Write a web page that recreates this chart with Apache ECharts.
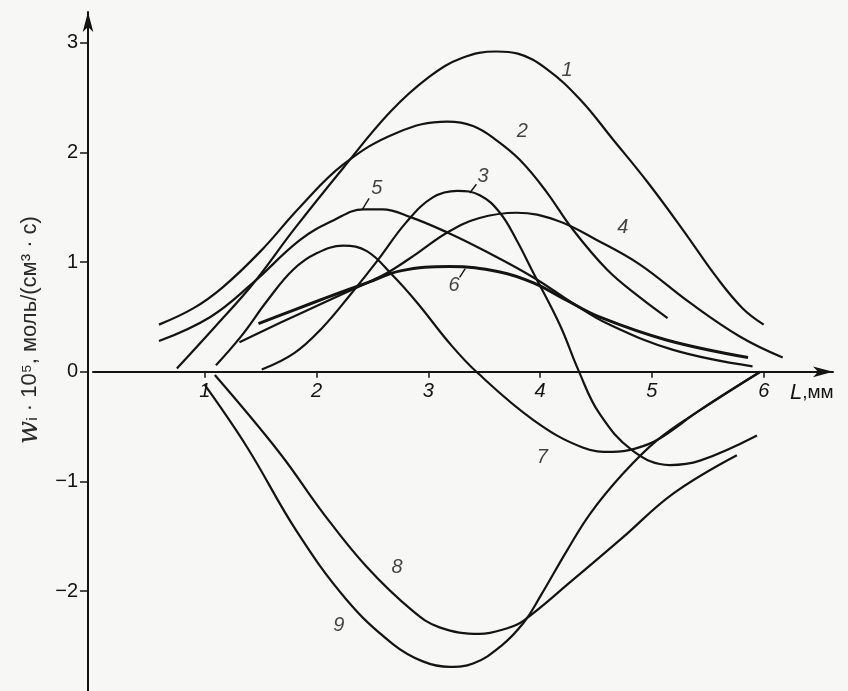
<!DOCTYPE html>
<html>
<head>
<meta charset="utf-8">
<script src="https://cdn.jsdelivr.net/npm/echarts@6/dist/echarts.min.js"></script>
<style>
  html, body { margin: 0; padding: 0; background: #f7f7f5; }
  #chart { width: 848px; height: 691px; }
</style>
</head>
<body>
<div id="chart"></div>
<script>
// curves: [L, mm ; w * 10^5]
const curve1 = [[0.75,0.03],[1.1,0.42],[1.43,0.8],[1.8,1.3],[2.24,1.86],[2.66,2.37],[3.01,2.69],[3.3,2.86],[3.61,2.92],[3.8,2.9],[4.06,2.76],[4.36,2.48],[4.65,2.12],[4.96,1.73],[5.28,1.29],[5.58,0.86],[5.81,0.58],[6.0,0.43]];
const curve2 = [[0.59,0.43],[0.9,0.58],[1.16,0.77],[1.5,1.1],[1.85,1.5],[2.24,1.89],[2.72,2.18],[3.17,2.28],[3.4,2.24],[3.61,2.11],[3.82,1.93],[4.05,1.65],[4.29,1.3],[4.6,0.93],[4.89,0.68],[5.14,0.49]];
const curve3 = [[1.51,0.02],[1.8,0.17],[2.05,0.4],[2.3,0.7],[2.55,1.02],[2.8,1.36],[3.04,1.59],[3.26,1.65],[3.46,1.61],[3.64,1.45],[3.79,1.2],[3.94,0.9],[4.18,0.42],[4.34,0.02],[4.53,-0.38],[4.83,-0.72],[5.16,-0.85],[5.43,-0.81],[5.94,-0.58]];
const curve4 = [[1.31,0.27],[1.85,0.53],[2.45,0.81],[2.63,0.9],[2.9,1.08],[3.17,1.27],[3.45,1.4],[3.79,1.45],[4.15,1.38],[4.51,1.2],[4.89,0.98],[5.34,0.63],[5.79,0.32],[6.17,0.13]];
const curve5 = [[0.59,0.28],[1.05,0.5],[1.43,0.81],[1.85,1.2],[2.15,1.38],[2.42,1.48],[2.59,1.48],[2.84,1.41],[3.17,1.27],[3.49,1.11],[3.94,0.86],[4.3,0.62],[4.6,0.44],[5.19,0.2],[5.9,0.05]];
const curve6 = [[1.48,0.44],[1.79,0.56],[2.1,0.68],[2.45,0.81],[2.75,0.92],[3.19,0.96],[3.64,0.91],[3.94,0.81],[4.24,0.65],[4.53,0.5],[5.13,0.29],[5.86,0.13]];
const curve7 = [[1.1,0.06],[1.33,0.33],[1.56,0.65],[1.79,0.93],[2.0,1.08],[2.24,1.15],[2.45,1.1],[2.68,0.88],[2.9,0.63],[3.19,0.26],[3.43,0.0],[3.94,-0.44],[4.38,-0.69],[4.65,-0.73],[4.85,-0.7],[5.05,-0.62],[5.43,-0.35],[5.97,0.0]];
const curve8 = [[1.09,-0.03],[1.67,-0.74],[2.06,-1.29],[2.45,-1.78],[2.86,-2.18],[3.1,-2.33],[3.46,-2.39],[3.7,-2.34],[3.85,-2.27],[4.29,-1.9],[4.74,-1.51],[5.19,-1.11],[5.76,-0.76]];
const curve9 = [[1.0,-0.12],[1.38,-0.69],[1.82,-1.45],[2.27,-2.08],[2.68,-2.48],[2.95,-2.64],[3.19,-2.69],[3.4,-2.66],[3.65,-2.5],[3.85,-2.29],[4.0,-2.05],[4.24,-1.63],[4.45,-1.29],[4.74,-0.93],[5.05,-0.62],[5.43,-0.35],[5.97,0.0]];

const curves = [curve1, curve2, curve3, curve4, curve5, curve6, curve7, curve8, curve9];
const curveWidths = [2.2, 2.2, 2.2, 2.2, 2.2, 3, 2.2, 2.2, 2.2];

// curve numbers and where they sit
const labelText = ["1", "2", "3", "4", "5", "6", "7", "8", "9"];
const labelX = [4.24, 3.84, 3.49, 4.74, 2.54, 3.23, 4.02, 2.72, 2.2];
const labelY = [2.75, 2.19, 1.78, 1.32, 1.67, 0.79, -0.78, -1.78, -2.31];

// little strokes joining labels 3, 5, 6 to their curves
const leaders = [
  [[3.43, 1.71], [3.37, 1.63]],
  [[2.47, 1.58], [2.41, 1.48]],
  [[3.28, 0.86], [3.33, 0.94]],
];

const xTicks = [1, 2, 3, 4, 5, 6];
const yTicks = [-2, -1, 0, 1, 2, 3];
const yMin = -2.91;
const yMax = 3.28;

const ink = "#141414";
const font = "Liberation Sans";

const gridTop = 12;
const gridBottom = 0;
const plotH = 691 - gridTop - gridBottom;
// the x axis sits on w = 0, so lift it from the grid bottom
const zeroLift = plotH * (0 - yMin) / (yMax - yMin);

const chart = echarts.init(document.getElementById("chart"));

const series = curves.map((c, i) => ({
  type: "line",
  data: c,
  smooth: 0.4,
  symbol: "none",
  lineStyle: { color: ink, width: curveWidths[i] },
  z: 3,
}));

leaders.forEach((l) => {
  series.push({
    type: "line",
    data: l,
    symbol: "none",
    lineStyle: { color: ink, width: 1.4 },
  });
});

series.push({
  type: "scatter",
  symbolSize: 0,
  data: labelText.map((t, i) => ({ name: t, value: [labelX[i], labelY[i]] })),
  label: {
    show: true,
    position: "inside",
    formatter: (p) => p.name,
    color: ink,
    fontFamily: font,
    fontStyle: "italic",
    fontSize: 20,
  },
  z: 5,
});

const option = {
  animation: false,
  backgroundColor: "#f7f7f5",
  grid: {
    left: 93,
    right: 15,
    top: gridTop,
    bottom: gridBottom,
    containLabel: false,
    outerBoundsMode: "none",
  },
  xAxis: {
    type: "value",
    min: 0,
    max: 6.62,
    position: "bottom",
    offset: -zeroLift,
    splitLine: { show: false },
    axisLine: {
      onZero: false,
      symbol: ["none", "arrow"],
      symbolSize: [8, 20],
      lineStyle: { color: ink, width: 2 },
    },
    axisTick: {
      customValues: xTicks,
      length: 6,
      lineStyle: { color: ink, width: 1.5 },
    },
    axisLabel: {
      customValues: xTicks,
      margin: 10,
      color: ink,
      fontFamily: font,
      fontStyle: "italic",
      fontSize: 20,
    },
  },
  yAxis: {
    type: "value",
    min: yMin,
    max: yMax,
    offset: 5,
    splitLine: { show: false },
    axisLine: {
      onZero: false,
      symbol: ["none", "arrow"],
      symbolSize: [8, 20],
      lineStyle: { color: ink, width: 2 },
    },
    axisTick: {
      customValues: yTicks,
      length: 8,
      lineStyle: { color: ink, width: 1.5 },
    },
    axisLabel: {
      customValues: yTicks,
      margin: 10,
      color: ink,
      fontFamily: font,
      fontSize: 20,
      formatter: (v) => (v < 0 ? "\u2212" + (-v) : String(v)),
    },
  },
  graphic: [
    {
      type: "text",
      x: 30,
      y: 330,
      rotation: Math.PI / 2,
      style: {
        text: "{w|w}\u1d62 \u00b7 10\u2075, моль/(см\u00b3 \u00b7 с)",
        rich: { w: { fontStyle: "italic", fontSize: 27, fontFamily: "DejaVu Serif" } },
        fontFamily: font,
        fontSize: 22,
        fill: "#2a2a2a",
        align: "center",
        verticalAlign: "middle",
      },
    },
    {
      type: "text",
      x: 790,
      y: 393,
      style: {
        text: "{l|L},мм",
        rich: { l: { fontStyle: "italic", fontSize: 22 } },
        fontFamily: font,
        fontSize: 19,
        fill: ink,
        align: "left",
        verticalAlign: "middle",
      },
    },
  ],
  series: series,
};

chart.setOption(option);
</script>
</body>
</html>
